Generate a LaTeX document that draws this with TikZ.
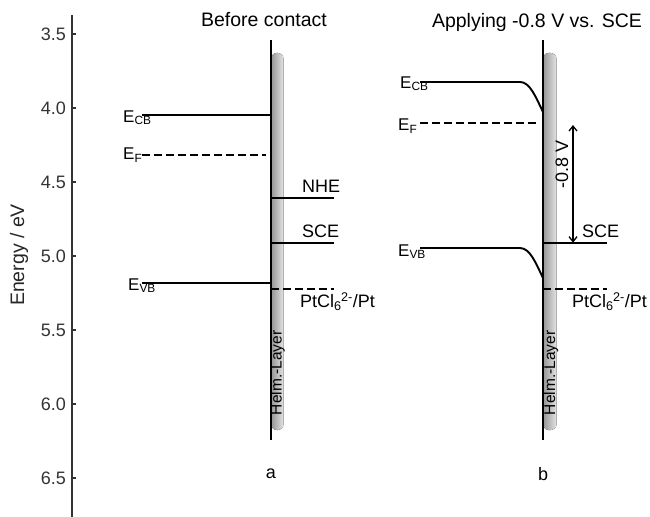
\documentclass[tikz,border=0pt]{standalone}
\usepackage{fontspec}
\setmainfont{Liberation Sans}
\usetikzlibrary{arrows.meta}
\definecolor{barlight}{HTML}{E4E4E4}
\definecolor{bardark}{HTML}{959595}

\tikzset{
  txt/.style={font=\fontsize{18}{20}\selectfont, inner sep=0pt},
  ttl/.style={font=\fontsize{19.5}{21}\selectfont, inner sep=0pt},
  etxt/.style={font=\fontsize{17}{19}\selectfont, inner sep=0pt},
  level/.style={line width=1.9pt},
  dlevel/.style={line width=1.9pt, dash pattern=on 7.5pt off 4.5pt},
  helm/.style={left color=bardark, right color=barlight, draw=none, rounded corners=6pt}
}
\newcommand{\ptcl}{PtCl\textsubscript{6}\kern-0.5pt\textsuperscript{2-}/Pt}

\begin{document}
\begin{tikzpicture}[x=1pt, y=-148pt]
\useasboundingbox (0,3.2703) rectangle (650,6.7635);

% Energy axis
\draw[line width=1.6pt, black!80] (72,3.372) -- (72,6.77);
\foreach \e in {3.5,4.0,4.5,5.0,5.5,6.0,6.5}{
  \draw[line width=1.5pt, black!80] (72,\e) -- ++(3.5pt,0);
  \node[txt, anchor=east, text=black!80] at (66,\e) {\e};
}
\node[font=\fontsize{19.5}{21}\selectfont, inner sep=0pt, rotate=90, text=black!85] (elabel) at (19,4.993) {Energy / eV};

% Before contact
\fill[helm] (271,3.628) rectangle (283.5,6.176);
\draw[level] (271,3.541) -- (271,6.243);
\node[ttl] (titleA) at (264,3.405) {Before contact};
\draw[level] (142,4.05) -- (271,4.05);
\draw[dlevel] (142,4.32) -- (266,4.32);
\draw[level] (271,4.61) -- (334,4.61);
\draw[level] (271,4.91) -- (334,4.91);
\draw[level] (142,5.18) -- (271,5.18);
\draw[dlevel] (271,5.22) -- (334,5.22);
\node[etxt, anchor=base west] (ecbA) at (123,4.095) {E\textsubscript{CB}};
\node[etxt, anchor=base west] (efA) at (123,4.351) {E\textsubscript{F}};
\node[etxt, anchor=base west] (evbA) at (128,5.23) {E\textsubscript{VB}};
\node[txt, anchor=base west] (nheA) at (302,4.574) {NHE};
\node[txt, anchor=base west] (sceA) at (302,4.878) {SCE};
\node[txt, anchor=base west] (ptA) at (300,5.351) {\ptcl};
\node[font=\fontsize{15.5}{17}\selectfont, inner sep=0pt, rotate=90] (helmA) at (277.5,5.79) {Helm.-Layer};
\node[txt] (a) at (271,6.473) {a};

% Applying -0.8 V vs. SCE
\fill[helm] (543,3.628) rectangle (556.5,6.176);
\draw[level] (543,3.541) -- (543,6.243);
\node[ttl] (titleB) at (537,3.425) {Applying -0.8 V vs. SCE};
\draw[level] (420,3.824) -- (520,3.824) .. controls (530,3.824) and (536,3.93) .. (543,4.027);
\draw[dlevel] (420,4.10) -- (538,4.10);
\draw[level] (420,4.946) -- (520,4.946) .. controls (530,4.946) and (536,5.05) .. (543,5.149);
\draw[level] (543,4.91) -- (607,4.91);
\draw[dlevel] (543,5.22) -- (607,5.22);
\node[etxt, anchor=base west] (ecbB) at (400,3.865) {E\textsubscript{CB}};
\node[etxt, anchor=base west] (efB) at (398,4.155) {E\textsubscript{F}};
\node[etxt, anchor=base west] (evbB) at (398,5.0) {E\textsubscript{VB}};
\node[txt, anchor=base west] (sceB) at (582,4.878) {SCE};
\node[txt, anchor=base west] (ptB) at (572,5.351) {\ptcl};
\node[font=\fontsize{15.5}{17}\selectfont, inner sep=0pt, rotate=90] (helmB) at (551,5.79) {Helm.-Layer};
\node[txt] (b) at (543,6.473) {b};

% Applied potential
\coordinate (vtop) at (573,4.115);
\coordinate (vbot) at (573,4.91);
\draw[line width=1.3pt, {Straight Barb[length=5pt,width=8pt]}-{Straight Barb[length=5pt,width=8pt]}] (vtop) -- (vbot);
\node[txt, rotate=90] (volt) at (562,4.385) {-0.8 V};
\end{tikzpicture}
\end{document}
